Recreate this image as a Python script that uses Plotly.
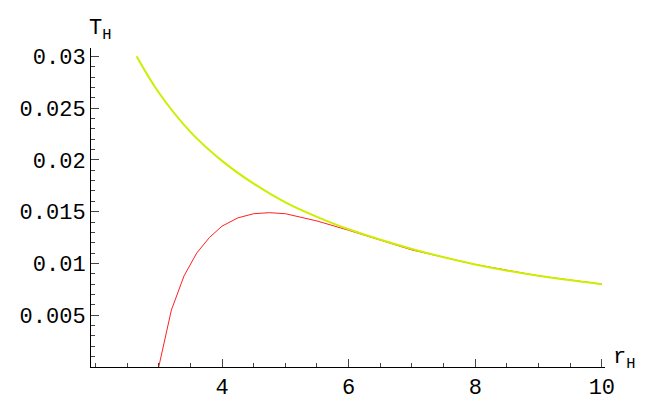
import plotly.graph_objects as go

r_yellow = [2.65, 3.0, 3.5, 4.0, 4.5, 5.0, 5.5, 6.0, 7.0, 8.0, 9.0, 10.0]
t_yellow = [0.0300, 0.0265, 0.0227, 0.0199, 0.0177, 0.0159, 0.0145, 0.0133, 0.0114, 0.0099, 0.0088, 0.0080]
r_red = [3.0, 3.2, 3.4, 3.6, 3.8, 4.0, 4.25, 4.5, 4.75, 5.0, 5.5, 6.0, 7.0, 8.0, 9.0, 10.0]
t_red = [0.0, 0.0055, 0.0088, 0.0110, 0.0125, 0.0136, 0.0144, 0.0148, 0.0149, 0.0148, 0.0141, 0.0132, 0.0113, 0.0099, 0.0088, 0.0080]
x_ticks = [4, 6, 8, 10]
y_ticks = [0.005, 0.01, 0.015, 0.02, 0.025, 0.03]
y_labels = ["0.005", "0.01", "0.015", "0.02", "0.025", "0.03"]

fig = go.Figure()
fig.add_trace(go.Scatter(x=r_red, y=t_red, mode="lines", line=dict(color="#ff2020", width=1)))
fig.add_trace(go.Scatter(x=r_yellow, y=t_yellow, mode="lines", line=dict(color="#ccee00", width=2, shape="spline")))

font = dict(family="Liberation Mono, DejaVu Sans Mono, monospace", size=22, color="black")
fig.update_layout(
    width=655, height=405, showlegend=False,
    plot_bgcolor="white", paper_bgcolor="white",
    margin=dict(l=80, r=58, t=40, b=32),
    font=font,
    xaxis=dict(range=[1.93, 10.05], tickvals=x_ticks, ticks="inside", ticklen=8,
               showgrid=False, zeroline=False, showline=True, linecolor="black",
               minor=dict(ticks="inside", ticklen=4, dtick=0.5, tick0=0, showgrid=False)),
    yaxis=dict(range=[0, 0.0308], tickvals=y_ticks, ticktext=y_labels, ticks="inside", ticklen=8,
               showgrid=False, zeroline=False, showline=True, linecolor="black",
               minor=dict(ticks="inside", ticklen=4, dtick=0.001, tick0=0, showgrid=False)),
)
fig.add_annotation(text="T<sub>H</sub>", xref="paper", yref="paper", x=0.0, y=1.0, xanchor="left",
                   yanchor="bottom", xshift=-4, yshift=2, showarrow=False, font=font)
fig.add_annotation(text="r<sub>H</sub>", xref="paper", yref="paper", x=1.0, y=0.0, xanchor="left",
                   yanchor="bottom", xshift=6, yshift=-8, showarrow=False, font=font)
fig.write_html("out.html")
